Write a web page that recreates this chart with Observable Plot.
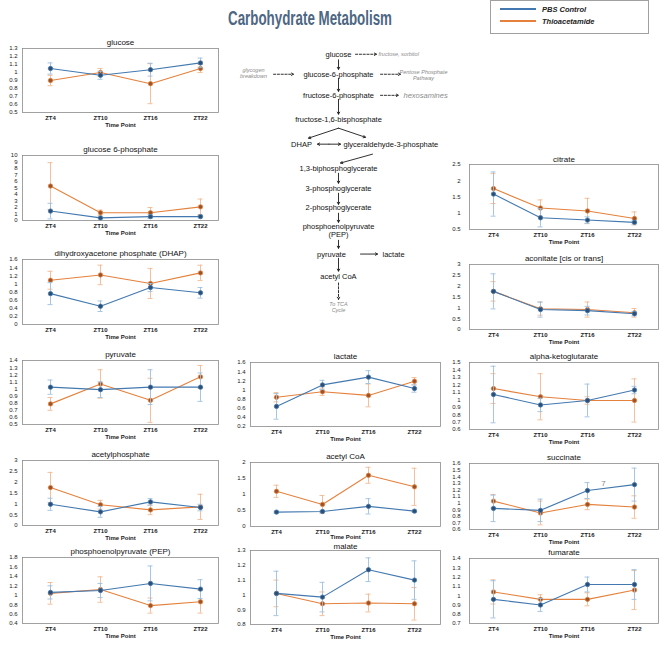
<!DOCTYPE html>
<html><head><meta charset="utf-8">
<script src="https://cdn.jsdelivr.net/npm/d3@7"></script>
<script src="https://cdn.jsdelivr.net/npm/@observablehq/plot@0.6"></script>
<style>
body{margin:0;background:#fff;}
#root{position:relative;width:667px;height:645px;overflow:hidden;font-family:"Liberation Sans",Arial,sans-serif;background:#fff;}
.abs{position:absolute;}
.abs svg{display:block;}
</style></head><body><div id="root"></div>
<script>
// ---------------- DATA ----------------
const timePoints = ["ZT4", "ZT10", "ZT16", "ZT22"];
const seriesNames = ["PBS Control", "Thioacetamide"];

// each: ctrl mean, ctrl error, thio mean, thio error
const glucose   = {ctrl:[1.05, 0.965, 1.035, 1.12], ctrlErr:[0.07, 0.05, 0.08, 0.06], thio:[0.90, 1.00, 0.86, 1.05], thioErr:[0.065, 0.05, 0.25, 0.05]};
const g6p       = {ctrl:[1.45, 0.40, 0.60, 0.60], ctrlErr:[1.2, 0.1, 0.3, 0.2], thio:[5.3, 1.2, 1.2, 2.1], thioErr:[3.6, 0.4, 0.8, 1.2]};
const dhap      = {ctrl:[0.76, 0.45, 0.91, 0.78], ctrlErr:[0.27, 0.13, 0.10, 0.13], thio:[1.09, 1.22, 1.01, 1.27], thioErr:[0.22, 0.24, 0.37, 0.19]};
const pyruvate  = {ctrl:[1.025, 0.99, 1.025, 1.025], ctrlErr:[0.10, 0.11, 0.245, 0.2], thio:[0.79, 1.07, 0.84, 1.17], thioErr:[0.09, 0.2, 0.31, 0.16]};
const acetylP   = {ctrl:[0.98, 0.63, 1.09, 0.83], ctrlErr:[0.28, 0.25, 0.15, 0.15], thio:[1.75, 0.96, 0.72, 0.86], thioErr:[0.7, 0.2, 0.22, 0.58]};
const pep       = {ctrl:[1.06, 1.10, 1.25, 1.13], ctrlErr:[0.14, 0.15, 0.37, 0.2], thio:[1.04, 1.12, 0.78, 0.86], thioErr:[0.23, 0.27, 0.16, 0.24]};
const lactate   = {ctrl:[0.64, 1.11, 1.28, 1.03], ctrlErr:[0.28, 0.1, 0.14, 0.08], thio:[0.84, 0.96, 0.88, 1.19], thioErr:[0.1, 0.08, 0.25, 0.08]};
const acetylCoA = {ctrl:[0.45, 0.47, 0.63, 0.48], ctrlErr:[0.03, 0.03, 0.24, 0.03], thio:[1.10, 0.69, 1.60, 1.24], thioErr:[0.19, 0.28, 0.25, 0.58]};
const malate    = {ctrl:[1.01, 0.985, 1.17, 1.10], ctrlErr:[0.15, 0.1, 0.08, 0.13], thio:[1.01, 0.94, 0.945, 0.94], thioErr:[0.09, 0.08, 0.06, 0.11]};
const citrate   = {ctrl:[1.59, 0.86, 0.79, 0.72], ctrlErr:[0.68, 0.28, 0.1, 0.05], thio:[1.76, 1.16, 1.07, 0.84], thioErr:[0.46, 0.25, 0.39, 0.2]};
const aconitate = {ctrl:[1.76, 0.92, 0.87, 0.73], ctrlErr:[0.81, 0.35, 0.2, 0.1], thio:[1.76, 0.96, 0.92, 0.77], thioErr:[0.45, 0.3, 0.35, 0.2]};
const alphaKG   = {ctrl:[1.07, 0.93, 0.99, 1.13], ctrlErr:[0.38, 0.09, 0.22, 0.05], thio:[1.15, 1.04, 0.99, 0.99], thioErr:[0.2, 0.31, 0.05, 0.29]};
const succinate = {ctrl:[0.92, 0.89, 1.19, 1.28], ctrlErr:[0.2, 0.17, 0.12, 0.25], thio:[1.03, 0.85, 0.98, 0.94], thioErr:[0.1, 0.18, 0.08, 0.17]};
const fumarate  = {ctrl:[0.96, 0.90, 1.12, 1.12], ctrlErr:[0.2, 0.07, 0.08, 0.16], thio:[1.04, 0.96, 0.96, 1.06], thioErr:[0.13, 0.05, 0.07, 0.21]};

// y tick labels
const glucoseTicks   = [0.5, 0.6, 0.7, 0.8, 0.9, 1, 1.1, 1.2, 1.3];
const g6pTicks       = [0, 1, 2, 3, 4, 5, 6, 7, 8, 9, 10];
const dhapTicks      = [0, 0.2, 0.4, 0.6, 0.8, 1, 1.2, 1.4, 1.6];
const pyruvateTicks  = [0.5, 0.6, 0.7, 0.8, 0.9, 1, 1.1, 1.2, 1.3, 1.4];
const acetylPTicks   = [0, 0.5, 1, 1.5, 2, 2.5, 3];
const pepTicks       = [0.4, 0.6, 0.8, 1, 1.2, 1.4, 1.6, 1.8];
const lactateTicks   = [0.2, 0.4, 0.6, 0.8, 1, 1.2, 1.4, 1.6];
const acetylCoATicks = [0, 0.5, 1, 1.5, 2];
const malateTicks    = [0.8, 0.9, 1, 1.1, 1.2, 1.3];
const citrateTicks   = [0.5, 1, 1.5, 2, 2.5];
const aconitateTicks = [0, 0.5, 1, 1.5, 2, 2.5, 3];
const alphaKGTicks   = [0.6, 0.7, 0.8, 0.9, 1, 1.1, 1.2, 1.3, 1.4, 1.5];
const succinateTicks = [0.6, 0.7, 0.8, 0.9, 1, 1.1, 1.2, 1.3, 1.4, 1.5, 1.6];
const fumarateTicks  = [0.7, 0.8, 0.9, 1, 1.1, 1.2, 1.3, 1.4];

// pathway diagram nodes (col = horizontal slot, row = vertical slot)
const pathwayNodes = [
  {label:"glucose", col:0, row:0, anchor:"middle"},
  {label:"glucose-6-phosphate", col:0, row:0.9, anchor:"middle"},
  {label:"fructose-6-phosphate", col:0, row:1.85, anchor:"middle"},
  {label:"fructose-1,6-bisphosphate", col:0, row:2.93, anchor:"middle"},
  {label:"DHAP", col:-3.7, row:4.05, anchor:"middle"},
  {label:"glyceraldehyde-3-phosphate", col:0.5, row:4.05, anchor:"start"},
  {label:"1,3-biphosphoglycerate", col:0, row:5.14, anchor:"middle"},
  {label:"3-phosphoglycerate", col:0, row:6.04, anchor:"middle"},
  {label:"2-phosphoglycerate", col:0, row:6.89, anchor:"middle"},
  {label:"phosphoenolpyruvate\n(PEP)", col:0, row:7.95, anchor:"middle"},
  {label:"pyruvate", col:-0.7, row:9.0, anchor:"middle"},
  {label:"lactate", col:4.4, row:9.0, anchor:"start"},
  {label:"acetyl CoA", col:0, row:10.0, anchor:"middle"}
];
const pathwayNotes = [
  {label:"fructose, sorbitol", col:4.0, row:0, anchor:"start", size:5.5},
  {label:"glycogen\nbreakdown", col:-8.5, row:0.83, anchor:"middle", size:5.5},
  {label:"Pentose Phosphate\nPathway", col:8.5, row:0.92, anchor:"middle", size:5.5},
  {label:"hexosamines", col:6.5, row:1.85, anchor:"start", size:7.5},
  {label:"To TCA\nCycle", col:0, row:11.4, anchor:"middle", size:5.5}
];
const pathwayArrows = [
  {c1:0, r1:0.25, c2:0, r2:0.68, dashed:false},
  {c1:0, r1:1.08, c2:0, r2:1.67, dashed:false},
  {c1:0, r1:2.03, c2:0, r2:2.7, dashed:false},
  {c1:0, r1:3.33, c2:-3.0, r2:3.78, dashed:false},
  {c1:0, r1:3.33, c2:2.7, r2:3.74, dashed:false},
  {c1:-0.95, r1:4.05, c2:-2.1, r2:4.05, dashed:false},
  {c1:-0.95, r1:4.05, c2:0.2, r2:4.05, dashed:false},
  {c1:3.4, r1:4.5, c2:0.2, r2:4.9, dashed:false},
  {c1:0, r1:5.36, c2:0, r2:5.81, dashed:false},
  {c1:0, r1:6.26, c2:0, r2:6.76, dashed:false},
  {c1:0, r1:7.16, c2:0, r2:7.57, dashed:false},
  {c1:0, r1:8.38, c2:0, r2:8.74, dashed:false},
  {c1:0, r1:9.19, c2:0, r2:9.77, dashed:false},
  {c1:2.2, r1:9.0, c2:3.9, r2:9.0, dashed:false},
  {c1:1.7, r1:0, c2:3.8, r2:0, dashed:true},
  {c1:-6.5, r1:0.9, c2:-4.5, r2:0.9, dashed:true},
  {c1:4.2, r1:0.9, c2:6.2, r2:0.9, dashed:true},
  {c1:4.2, r1:1.85, c2:6.0, r2:1.85, dashed:true},
  {c1:0, r1:10.3, c2:0, r2:11.04, dashed:true}
];

// ---------------- STYLE / LAYOUT ----------------
const FONT = "Liberation Sans, Arial, sans-serif";
const seriesStyle = {
  "PBS Control":   {line:"#4379b0", dot:"#2c4e73", err:"#9dbfdf"},
  "Thioacetamide": {line:"#e5813c", dot:"#9c5228", err:"#f2b990"}
};
const panels = [
  {title:"glucose", d:glucose, ticks:glucoseTicks, f:[22,48,218,112], pad:0.36, inL:9.5, tp:5},
  {title:"glucose 6-phosphate", d:g6p, ticks:g6pTicks, f:[22,155,218,220], pad:0.36, inL:9.5, tp:5},
  {title:"dihydroxyacetone phosphate (DHAP)", d:dhap, ticks:dhapTicks, f:[22,259,218,324], pad:0.36, inL:9.5, tp:5},
  {title:"pyruvate", d:pyruvate, ticks:pyruvateTicks, f:[22,360,218,424], pad:0.36, inL:9.5, tp:5},
  {title:"acetylphosphate", d:acetylP, ticks:acetylPTicks, f:[22,460,218,525], pad:0.36, inL:9.5, tp:5},
  {title:"phosphoenolpyruvate (PEP)", d:pep, ticks:pepTicks, f:[22,557,218,623], pad:0.36, inL:9.5, tp:5},
  {title:"lactate", d:lactate, ticks:lactateTicks, f:[250,362,440,426], pad:0.565, inL:0, tp:5},
  {title:"acetyl CoA", d:acetylCoA, ticks:acetylCoATicks, f:[250,462,440,526], pad:0.565, inL:0, tp:5, tpDy:11},
  {title:"malate", d:malate, ticks:malateTicks, f:[250,550,440,624], pad:0.565, inL:0, tp:5, titleDy:-4.5},
  {title:"citrate", d:citrate, ticks:citrateTicks, f:[469,164,658,229], pad:0.48, inL:0, tp:9, titleDy:-5},
  {title:"aconitate [cis or trans]", d:aconitate, ticks:aconitateTicks, f:[469,264,658,329], pad:0.48, inL:0, tp:9},
  {title:"alpha-ketoglutarate", d:alphaKG, ticks:alphaKGTicks, f:[469,362,658,429], pad:0.48, inL:0, tp:9},
  {title:"succinate", d:succinate, ticks:succinateTicks, f:[469,463,658,529], pad:0.48, inL:0, tp:9, note:"7"},
  {title:"fumarate", d:fumarate, ticks:fumarateTicks, f:[469,558,658,623], pad:0.48, inL:0, tp:9}
];

const root = document.getElementById("root");
function place(el, left, top, w) {
  const div = document.createElement("div");
  div.className = "abs";
  div.style.left = left + "px";
  div.style.top = top + "px";
  if (w) div.style.width = w + "px";
  div.appendChild(el);
  root.appendChild(div);
  return div;
}
const fmt = v => String(+v.toFixed(2));

function makePanel(p) {
  const [L, T, R, B] = p.f;
  const mL = 22, mR = 4, mT = 14, mB = 20;
  const rows = [];
  seriesNames.forEach((s, si) => {
    const m = si === 0 ? p.d.ctrl : p.d.thio;
    const e = si === 0 ? p.d.ctrlErr : p.d.thioErr;
    timePoints.forEach((t, i) => rows.push({t, series: s, v: m[i], e: e[i]}));
  });
  const marks = [
    Plot.frame({stroke: "#8a8a8a", strokeWidth: 0.8}),
    Plot.axisY({ticks: p.ticks, tickSize: 0, tickPadding: p.tp, label: null, tickFormat: fmt, fontSize: 6, fill: "#222"}),
    Plot.axisX({tickSize: 0, tickPadding: 3, label: null, fontSize: 6, fontWeight: "bold", fill: "#222"}),
    Plot.text([p.title], {frameAnchor: "top", dy: p.titleDy ?? -6, fontSize: 8, fill: "#111", lineAnchor: "middle"}),
    Plot.text(["Time Point"], {frameAnchor: "bottom", dy: p.tpDy ?? 12.5, fontSize: 6, fontWeight: "bold", fill: "#222", lineAnchor: "middle"})
  ];
  // draw Thioacetamide first, then PBS Control on top
  [seriesNames[1], seriesNames[0]].forEach(s => {
    const st = seriesStyle[s];
    const data = rows.filter(r => r.series === s);
    marks.push(
      Plot.ruleX(data, {x: "t", y1: d => d.v - d.e, y2: d => d.v + d.e, stroke: st.err, strokeWidth: 0.9}),
      Plot.ruleY(data, {x1: "t", x2: "t", y: d => d.v + d.e, stroke: st.err, strokeWidth: 0.9, insetLeft: -2.5, insetRight: -2.5}),
      Plot.ruleY(data, {x1: "t", x2: "t", y: d => d.v - d.e, stroke: st.err, strokeWidth: 0.9, insetLeft: -2.5, insetRight: -2.5}),
      Plot.line(data, {x: "t", y: "v", stroke: st.line, strokeWidth: 1.1}),
      Plot.dot(data, {x: "t", y: "v", r: 2.2, fill: st.dot, stroke: st.line, strokeWidth: 0.8})
    );
  });
  if (p.note) {
    marks.push(Plot.text([p.note], {x: () => timePoints[2], y: () => 1.3, dx: 16, fontSize: 8, fill: "#888"}));
  }
  const chart = Plot.plot({
    width: R - L + mL + mR,
    height: B - T + mT + mB,
    marginLeft: mL, marginRight: mR, marginTop: mT, marginBottom: mB,
    style: {fontFamily: FONT, background: "transparent", overflow: "visible"},
    x: {type: "point", domain: timePoints, padding: p.pad, insetLeft: p.inL},
    y: {domain: [p.ticks[0], p.ticks[p.ticks.length - 1]]},
    marks
  });
  place(chart, L - mL, T - mT, R - L + mL + mR);
}
panels.forEach(makePanel);

// ---------------- PATHWAY DIAGRAM ----------------
const textMarks = [];
["start", "middle"].forEach(anchor => {
  textMarks.push(Plot.text(pathwayNodes.filter(n => n.anchor === anchor), {x: "col", y: "row", text: "label", textAnchor: anchor, fontSize: 7.5, fill: "#111", lineHeight: 1.05}));
  textMarks.push(Plot.text(pathwayNotes.filter(n => n.anchor === anchor), {x: "col", y: "row", text: "label", textAnchor: anchor, fontSize: d => d.size, fontStyle: "italic", fill: "#8a8a8a", lineHeight: 1.1}));
});
const diagram = Plot.plot({
  width: 230, height: 290, margin: 0,
  style: {fontFamily: FONT, background: "transparent", overflow: "visible"},
  x: {domain: [-11.3, 11.7], axis: null},
  y: {domain: [-0.8, 12.263], axis: null, reverse: true},
  marks: [
    Plot.arrow(pathwayArrows.filter(a => !a.dashed), {x1: "c1", y1: "r1", x2: "c2", y2: "r2", stroke: "#1a1a1a", strokeWidth: 0.9, headLength: 4}),
    Plot.arrow(pathwayArrows.filter(a => a.dashed), {x1: "c1", y1: "r1", x2: "c2", y2: "r2", stroke: "#1a1a1a", strokeWidth: 0.9, headLength: 4, strokeDasharray: "2.2,1.6"}),
    ...textMarks
  ]
});
place(diagram, 225, 36, 230);

// ---------------- TITLE & LEGEND ----------------
const title = document.createElement("div");
title.textContent = "Carbohydrate Metabolism";
title.style.cssText = "display:inline-block;font-family:'Liberation Sans',Arial,sans-serif;font-weight:bold;font-size:20px;color:#4d6783;white-space:nowrap;line-height:20px;transform-origin:0 0;";
place(title, 228, 8);
const tw = title.getBoundingClientRect().width;
title.style.transform = `scaleX(${164 / tw})`;

const legend = document.createElement("div");
legend.style.cssText = "width:159px;height:34px;border:1px solid #a0a0a0;box-sizing:border-box;position:relative;background:#fff;";
seriesNames.forEach((s, i) => {
  const row = document.createElement("div");
  row.style.cssText = `position:absolute;left:9px;top:${3 + i * 12}px;height:10px;display:flex;align-items:center;`;
  const sw = document.createElement("div");
  sw.style.cssText = `width:36px;height:1.6px;background:${seriesStyle[s].line};margin-right:6px;`;
  const tx = document.createElement("span");
  tx.textContent = s;
  tx.style.cssText = `font-family:${FONT};font-size:7.5px;font-weight:bold;font-style:italic;color:#222;`;
  row.appendChild(sw); row.appendChild(tx);
  legend.appendChild(row);
});
place(legend, 490, 0);
</script>
</body></html>
